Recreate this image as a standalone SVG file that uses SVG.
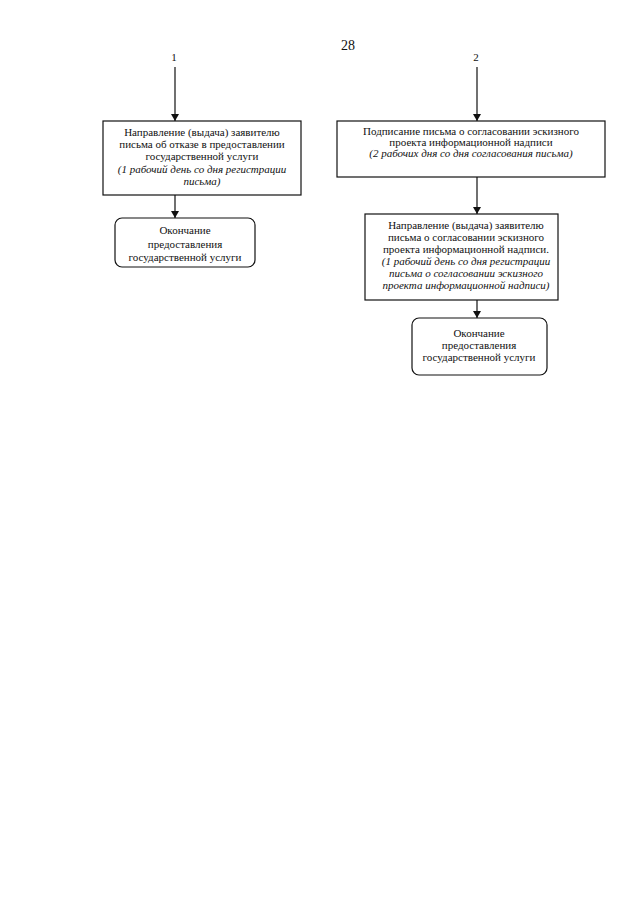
<svg xmlns="http://www.w3.org/2000/svg" width="640" height="905" viewBox="0 0 640 905">
<style>
text{font-family:"Liberation Serif","Times New Roman",serif;font-size:11px;fill:#111;text-anchor:middle}
.i{font-style:italic}
.b{fill:#fff;stroke:#111;stroke-width:1.2}
.c line{stroke:#111;stroke-width:1.2}
</style>
<defs>
<marker id="a" markerWidth="8" markerHeight="8" refX="7" refY="4" orient="auto" markerUnits="userSpaceOnUse">
<path d="M0,0 L7,4 L0,8 Z" fill="#111"/>
</marker>
</defs>
<rect width="640" height="905" fill="#fff"/>
<text x="348" y="50" style="font-size:14px">28</text>
<text x="174" y="61" style="font-size:11px">1</text>
<text x="476" y="61" style="font-size:11px">2</text>
<g class="c" id="connectors">
<line x1="175" y1="67" x2="175" y2="121" marker-end="url(#a)"/>
<line x1="175" y1="195" x2="175" y2="218" marker-end="url(#a)"/>
<line x1="477" y1="67" x2="477" y2="121" marker-end="url(#a)"/>
<line x1="477" y1="177" x2="477" y2="214" marker-end="url(#a)"/>
<line x1="477" y1="300" x2="477" y2="318" marker-end="url(#a)"/>
</g>
<g id="n1">
<rect class="b" x="103" y="121" width="198" height="74"/>
<text x="202" y="136">Направление (выдача) заявителю</text>
<text x="202" y="148">письма об отказе в предоставлении</text>
<text x="202" y="160">государственной услуги</text>
<text x="202" y="173" class="i">(1 рабочий день со дня регистрации</text>
<text x="202" y="185" class="i">письма)</text>
</g>
<g id="n2">
<rect class="b" x="115" y="218" width="140" height="49" rx="7"/>
<text x="185" y="234">Окончание</text>
<text x="185" y="248">предоставления</text>
<text x="185" y="261">государственной услуги</text>
</g>
<g id="n3">
<rect class="b" x="337" y="121" width="268" height="56"/>
<text x="471" y="135">Подписание письма о согласовании эскизного</text>
<text x="471" y="146">проекта информационной надписи</text>
<text x="471" y="157" class="i">(2 рабочих дня со дня согласования письма)</text>
</g>
<g id="n4">
<rect class="b" x="365" y="214" width="193" height="86"/>
<text x="466" y="229">Направление (выдача) заявителю</text>
<text x="466" y="241">письма о согласовании эскизного</text>
<text x="466" y="253">проекта информационной надписи.</text>
<text x="466" y="265" class="i">(1 рабочий день со дня регистрации</text>
<text x="466" y="277" class="i">письма о согласовании эскизного</text>
<text x="466" y="289" class="i">проекта информационной надписи)</text>
</g>
<g id="n5">
<rect class="b" x="412" y="318" width="135" height="57" rx="7"/>
<text x="479" y="337">Окончание</text>
<text x="479" y="349">предоставления</text>
<text x="479" y="361">государственной услуги</text>
</g>
</svg>
